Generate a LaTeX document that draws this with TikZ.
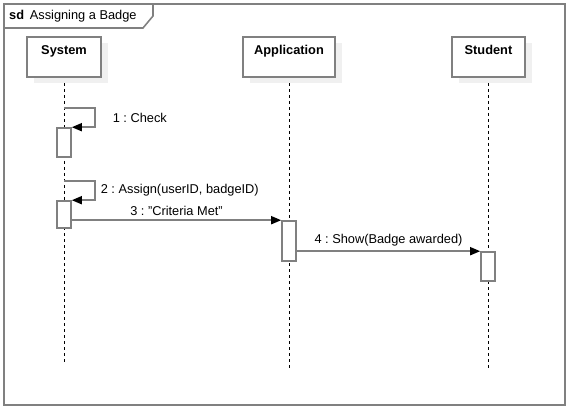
\documentclass[tikz,border=0pt]{standalone}
\usepackage{fontspec}
\setmainfont{Liberation Sans}
\usetikzlibrary{arrows.meta,positioning,shadows}

\begin{document}
\frenchspacing
\begin{tikzpicture}[
    x=1pt, y=-1pt,
    every node/.style={font=\fontsize{12.8}{14}\selectfont, inner sep=0pt},
    frame/.style={draw=black!50, line width=1.6pt},
    head/.style={draw=black!50, line width=1.6pt, fill=white, minimum width=74pt, inner sep=5pt,
        text height=13pt, text depth=17pt, font=\fontsize{12.8}{14}\selectfont\bfseries,
        drop shadow={shadow xshift=7pt, shadow yshift=-6pt, fill=black!6, opacity=1}},
    activation/.style={draw=black!50, line width=1.6pt, fill=white, minimum width=14pt},
    lifeline/.style={black, line width=1pt, dash pattern=on 3pt off 3pt},
    msg/.style={draw=black!50, line width=1.6pt, -{Triangle[length=10pt, width=8pt, color=black]}}
]
\useasboundingbox (0,0) rectangle (568,409);

% frame and its tab
\draw[frame] (4,4) rectangle (565,405);
\node[anchor=west] (title) at (9,16) {\textbf{sd}\, Assigning a Badge};
\draw[frame] (4,28) -- (143,28) -- (153,16) -- (153,4);

% lifelines
\coordinate (system end) at (64,363);
\coordinate (app end) at (289,370);
\coordinate (student end) at (488,370);
\draw[lifeline] (64,77) -- (system end);
\draw[lifeline] (289,77) -- (app end);
\draw[lifeline] (488,77) -- (student end);

% heads
\node[head, minimum width=74pt] (system) at (64,57) {System};
\node[head, minimum width=92pt] (app) at (289,57) {Application};
\node[head, minimum width=73pt] (student) at (488.5,57) {Student};

% activations
\node[activation, minimum height=29pt] (act1) at (64,142.5) {};
\node[activation, minimum height=27pt] (act2) at (64,214.5) {};
\node[activation, minimum height=40pt] (act3) at (289,241) {};
\node[activation, minimum height=29pt] (act4) at (488,266.5) {};

% messages
\coordinate (call1) at (64,108);
\coordinate (call2) at (64,181);
\draw[msg] (call1) -- ++(31,0) |- (act1.north east)
    node[pos=0.25, anchor=west, xshift=17pt] {1 : Check};
\draw[msg] (call2) -- ++(31,0) |- (act2.north east)
    node[pos=0.25, anchor=west, xshift=5pt] {2 : Assign(userID, badgeID)};
\draw[msg] (act3.north west -| act2.east) -- (act3.north west)
    node[midway, above=4pt] {3 : "Criteria Met"};
\draw[msg] (act4.north west -| act3.east) -- (act4.north west)
    node[midway, above=4pt] {4 : Show(Badge awarded)};
\end{tikzpicture}
\end{document}
